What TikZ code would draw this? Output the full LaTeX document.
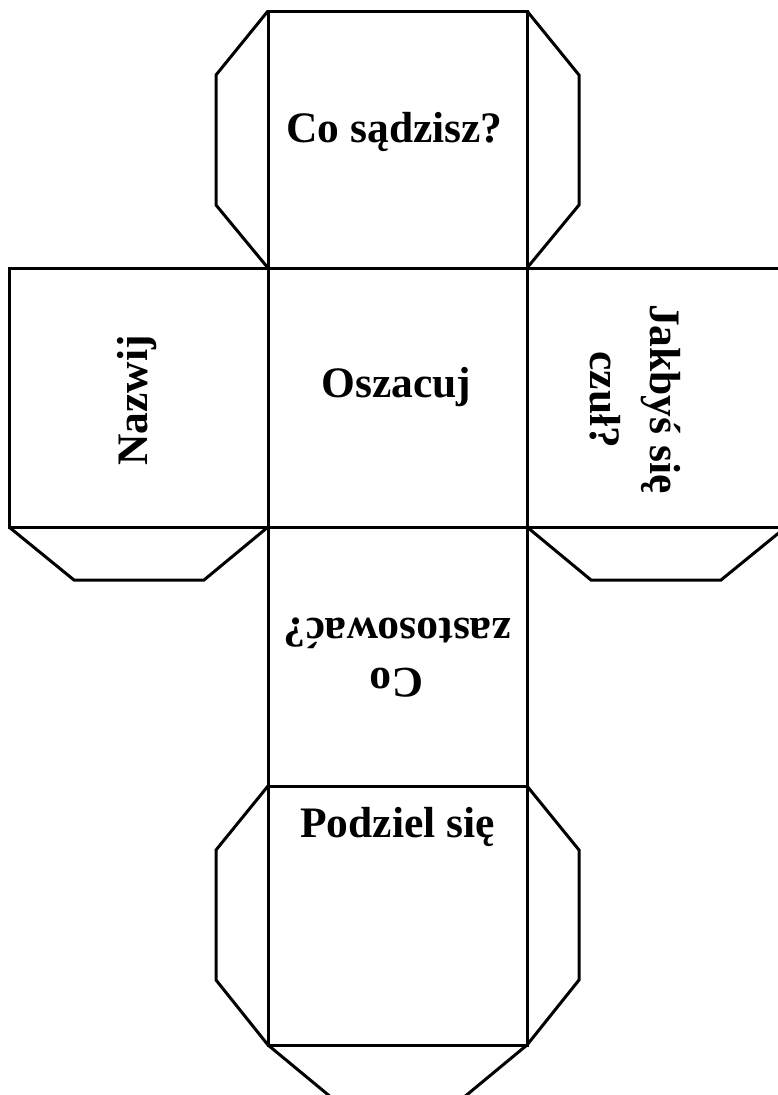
\documentclass[tikz,border=0pt]{standalone}
\usepackage{fontspec}
\setmainfont{Liberation Serif}
\begin{document}
\begin{tikzpicture}[x=1pt,y=-1pt,
  edge/.style={line width=3pt,line join=miter,black},
  label/.style={font=\bfseries\fontsize{43.5}{50}\selectfont,inner sep=0pt,anchor=base}]
\useasboundingbox (0,0) rectangle (778,1095);
\clip (0,0) rectangle (778,1095);
% faces of the cube
\draw[edge] (268,11) rectangle (527,268);
\draw[edge] (9,268) rectangle (268,527);
\draw[edge] (268,268) rectangle (527,527);
\draw[edge] (527,268) rectangle (786,527);
\draw[edge] (268,527) rectangle (527,786);
\draw[edge] (268,786) rectangle (527,1045);
% flaps of the top face
\draw[edge] (268,11) -- (216,75) -- (216,205) -- (268,268);
\draw[edge] (527,11) -- (579,75) -- (579,205) -- (527,268);
% flaps under the side faces
\draw[edge] (9,527) -- (74,580) -- (204,580) -- (268,527);
\draw[edge] (527,527) -- (591,580) -- (721,580) -- (786,527);
% flaps of the bottom face
\draw[edge] (268,786) -- (216,850) -- (216,980) -- (268,1045);
\draw[edge] (527,786) -- (579,850) -- (579,980) -- (527,1045);
\draw[edge] (268,1045) -- (332,1098) -- (463,1098) -- (527,1045);
% texts
\node[label] (top) at (394.5,142) {Co sądzisz?};
\node[label] (mid) at (396.5,397) {Oszacuj};
\node[label,rotate=90] (left) at (147,400.5) {Nazwij};
\node[label,rotate=-90] (right1) at (650,399) {Jakbyś się};
\node[label,rotate=-90] (right2) at (590,400) {czuł?};
\node[label,rotate=180] (low1) at (396.5,668) {Co};
\node[label,rotate=180] (low2) at (397.5,618) {zastosować?};
\node[label] (bottom) at (397.5,837) {Podziel się};
\end{tikzpicture}
\end{document}
